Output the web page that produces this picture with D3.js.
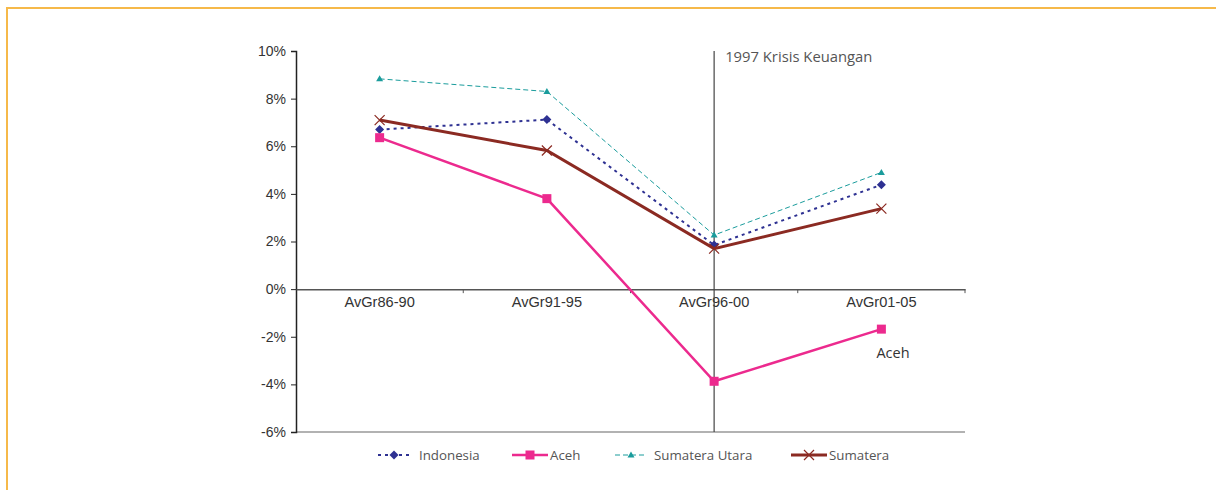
<!DOCTYPE html>
<html>
<head>
<meta charset="utf-8">
<script src="https://cdn.jsdelivr.net/npm/d3@7"></script>
<style>
  body { margin: 0; background: #fff; }
  svg { display: block; font-family: "Open Sans", "Noto Sans", sans-serif; }
</style>
</head>
<body>
<div id="chart"></div>
<script>
const categories = ["AvGr86-90", "AvGr91-95", "AvGr96-00", "AvGr01-05"];
const indonesia = [6.7, 7.12, 1.85, 4.38];
const aceh = [6.36, 3.8, -3.87, -1.68];
const sumateraUtara = [8.83, 8.3, 2.27, 4.9];
const sumatera = [7.1, 5.82, 1.7, 3.38];
const yTicks = [10, 8, 6, 4, 2, 0, -2, -4, -6];

const series = [
  { name: "Indonesia", values: indonesia, color: "#2e3192", width: 2, dash: "3,4", marker: "diamond" },
  { name: "Aceh", values: aceh, color: "#ec2a8e", width: 2.5, dash: null, marker: "square" },
  { name: "Sumatera Utara", values: sumateraUtara, color: "#1a9c9c", width: 1, dash: "5,3", marker: "triangle" },
  { name: "Sumatera", values: sumatera, color: "#8b2a22", width: 3, dash: null, marker: "cross" }
];

const W = 1216, H = 490;
const svg = d3.select("#chart").append("svg").attr("width", W).attr("height", H);

// Frame
svg.append("rect")
  .attr("x", 7).attr("y", 8)
  .attr("width", W + 20).attr("height", H + 20)
  .attr("fill", "none")
  .attr("stroke", "#f6b94a")
  .attr("stroke-width", 2);

const x = d3.scaleBand().domain(categories).range([296, 965]);
const y = d3.scaleLinear().domain([-6, 10]).range([432, 51]);

// -6% bottom line
svg.append("line")
  .attr("x1", 296).attr("x2", 965)
  .attr("y1", y(-6)).attr("y2", y(-6))
  .attr("stroke", "#999").attr("stroke-width", 1.5);

// Y axis
const yAxis = svg.append("g")
  .attr("transform", "translate(296,0)")
  .call(d3.axisLeft(y).tickValues(yTicks).tickSize(5).tickPadding(5).tickFormat(d => d + "%"));
yAxis.select(".domain").attr("stroke", "#222").attr("stroke-width", 1.5);
yAxis.selectAll(".tick line").attr("stroke", "#222");
yAxis.selectAll("text").attr("font-size", 14).attr("fill", "#333");

// X axis at 0
const xAxis = svg.append("g")
  .attr("transform", `translate(0,${y(0)})`)
  .call(d3.axisBottom(x).tickSize(0).tickPadding(8));
xAxis.select(".domain").attr("stroke", "#555").attr("stroke-width", 1.5);
xAxis.selectAll("text").attr("font-size", 14.6).attr("fill", "#333");
// boundary ticks
svg.selectAll(".bt")
  .data(categories.slice(1).concat(["end"]))
  .enter().append("line")
  .attr("x1", (d, i) => x(categories[0]) + x.bandwidth() * (i + 1))
  .attr("x2", (d, i) => x(categories[0]) + x.bandwidth() * (i + 1))
  .attr("y1", y(0)).attr("y2", y(0) + 4)
  .attr("stroke", "#555");

// Crisis line
const cx = x("AvGr96-00") + x.bandwidth() / 2;
svg.append("line")
  .attr("x1", cx).attr("x2", cx)
  .attr("y1", y(10)).attr("y2", y(-6))
  .attr("stroke", "#444").attr("stroke-width", 1.2);
svg.append("text")
  .attr("x", cx + 11).attr("y", 62)
  .attr("font-size", 14.8).attr("fill", "#555")
  .text("1997 Krisis Keuangan");

const px = c => x(c) + x.bandwidth() / 2;

function drawMarker(g, type, color, cxp, cyp) {
  if (type === "diamond") {
    g.append("path").attr("d", `M${cxp},${cyp - 4.5}L${cxp + 4.5},${cyp}L${cxp},${cyp + 4.5}L${cxp - 4.5},${cyp}Z`).attr("fill", color);
  } else if (type === "square") {
    g.append("rect").attr("x", cxp - 4.5).attr("y", cyp - 4.5).attr("width", 9).attr("height", 9).attr("fill", color);
  } else if (type === "triangle") {
    g.append("path").attr("d", `M${cxp},${cyp - 3.5}L${cxp + 3.5},${cyp + 2.5}L${cxp - 3.5},${cyp + 2.5}Z`).attr("fill", color);
  } else {
    g.append("path").attr("d", `M${cxp - 5},${cyp - 5}L${cxp + 5},${cyp + 5}M${cxp - 5},${cyp + 5}L${cxp + 5},${cyp - 5}`).attr("stroke", color).attr("stroke-width", 1.2).attr("fill", "none");
  }
}

const line = d3.line().x((d, i) => px(categories[i])).y(d => y(d));

series.forEach(s => {
  const g = svg.append("g");
  g.append("path")
    .datum(s.values)
    .attr("d", line)
    .attr("fill", "none")
    .attr("stroke", s.color)
    .attr("stroke-width", s.width)
    .attr("stroke-dasharray", s.dash);
  s.values.forEach((v, i) => drawMarker(g, s.marker, s.color, px(categories[i]), y(v)));
});

// Aceh label
svg.append("text")
  .attr("x", 893).attr("y", 358)
  .attr("text-anchor", "middle")
  .attr("font-size", 14.5).attr("fill", "#333")
  .text("Aceh");

// Legend
const legendItems = [
  { s: series[0], x0: 378, x1: 410, tx: 419 },
  { s: series[1], x0: 512, x1: 548, tx: 550 },
  { s: series[2], x0: 615, x1: 647, tx: 654 },
  { s: series[3], x0: 791, x1: 827, tx: 829 }
];
const ly = 455;
legendItems.forEach(it => {
  const g = svg.append("g");
  g.append("line")
    .attr("x1", it.x0).attr("x2", it.x1)
    .attr("y1", ly).attr("y2", ly)
    .attr("stroke", it.s.color)
    .attr("stroke-width", it.s.width)
    .attr("stroke-dasharray", it.s.dash);
  drawMarker(g, it.s.marker, it.s.color, (it.x0 + it.x1) / 2, ly);
  g.append("text")
    .attr("x", it.tx).attr("y", ly).attr("dy", "0.35em")
    .attr("font-size", 13.3).attr("fill", "#555")
    .text(it.s.name);
});
</script>
</body>
</html>
